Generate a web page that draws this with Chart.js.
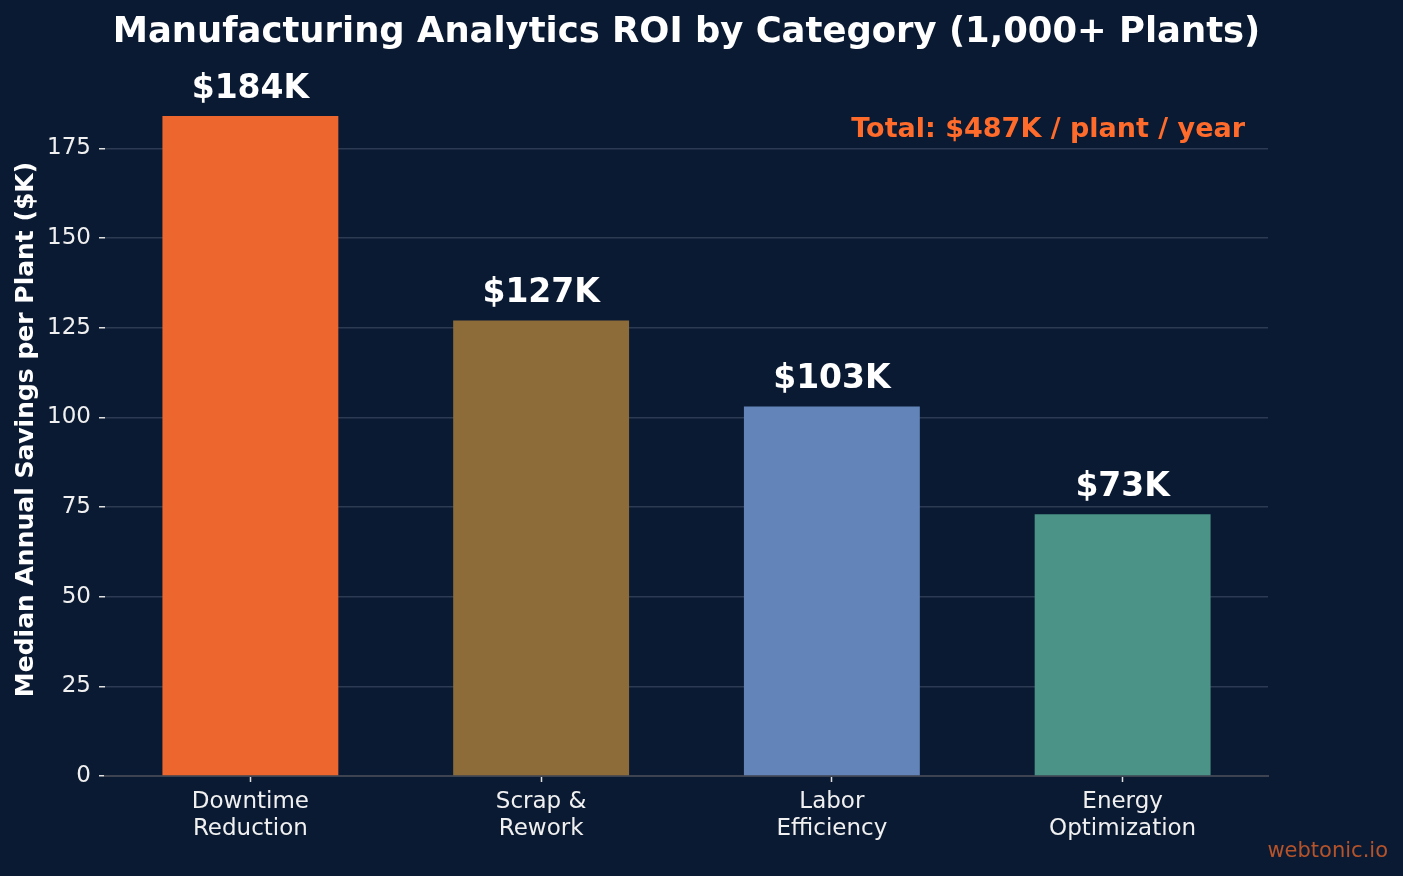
<!DOCTYPE html>
<html>
<head>
<meta charset="utf-8">
<script src="https://cdn.jsdelivr.net/npm/chart.js@4/dist/chart.umd.min.js"></script>
<style>
  html, body { margin: 0; padding: 0; background: #0b1a33; }
  #wrap { width: 1403px; height: 876px; }
</style>
</head>
<body>
<div id="wrap"><canvas id="roiChart" width="1403" height="876"></canvas></div>
<script>
const categories = [['Downtime', 'Reduction'], ['Scrap &', 'Rework'], ['Labor', 'Efficiency'], ['Energy', 'Optimization']];
const savings = [184, 127, 103, 73];
const valueLabels = ['$184K', '$127K', '$103K', '$73K'];
const barColors = ['#ec662e', '#8d6c3a', '#6384b8', '#4a9386'];
const yTicks = [0, 25, 50, 75, 100, 125, 150, 175];
const titleText = 'Manufacturing Analytics ROI by Category (1,000+ Plants)';
const totalText = 'Total: $487K / plant / year';

const FONT = "'DejaVu Sans', sans-serif";

const decorPlugin = {
    id: 'decor',
    beforeDraw(chart) {
        const ctx = chart.ctx;
        ctx.save();
        ctx.fillStyle = '#0b1a33';
        ctx.fillRect(0, 0, chart.width, chart.height);
        ctx.restore();
    },
    afterDatasetsDraw(chart) {
        const ctx = chart.ctx;
        const area = chart.chartArea;
        const meta = chart.getDatasetMeta(0);
        ctx.save();
        // bar value labels
        ctx.fillStyle = '#ffffff';
        ctx.font = 'bold 33px ' + FONT;
        ctx.textAlign = 'center';
        ctx.textBaseline = 'middle';
        meta.data.forEach((bar, i) => {
            ctx.fillText(valueLabels[i], bar.x, bar.y - 27);
        });
        // title
        ctx.font = 'bold 35.4px ' + FONT;
        ctx.fillText(titleText, (area.left + area.right) / 2, 33);
        // total annotation
        ctx.fillStyle = '#ff6b2b';
        ctx.font = 'bold 27px ' + FONT;
        ctx.textAlign = 'right';
        ctx.fillText(totalText, area.right - 23, 130);
        // watermark
        ctx.fillStyle = '#b5532a';
        ctx.font = '21px ' + FONT;
        ctx.fillText('webtonic.io', 1388, 852);
        ctx.restore();
    }
};

new Chart(document.getElementById('roiChart'), {
    type: 'bar',
    data: {
        labels: categories,
        datasets: [{
            data: savings,
            backgroundColor: barColors,
            borderWidth: 0,
            categoryPercentage: 1.0,
            barPercentage: 0.605
        }]
    },
    options: {
        responsive: false,
        animation: false,
        layout: { padding: { left: 0, right: 135, top: 83, bottom: 0 } },
        plugins: {
            legend: { display: false },
            tooltip: { enabled: false },
            title: { display: false }
        },
        scales: {
            x: {
                afterFit(scale) { scale.height = 100; },
                grid: { offset: false, drawOnChartArea: false, drawTicks: true, tickLength: 6, tickColor: '#e0e0e0', tickWidth: 1.5 },
                border: { display: true, color: '#3d4350', width: 2 },
                ticks: {
                    color: '#f0f0f0',
                    padding: 7,
                    font: { family: FONT, size: 23, lineHeight: 27 / 23 }
                }
            },
            y: {
                min: 0,
                max: 193.2,
                afterFit(scale) { scale.width = 105; },
                afterBuildTicks(scale) { scale.ticks = yTicks.map(v => ({ value: v })); },
                grid: { color: '#2c3a52', lineWidth: 1.5, drawTicks: true, tickLength: 6, tickColor: '#e0e0e0', tickWidth: 1.5 },
                border: { display: false },
                ticks: {
                    color: '#f0f0f0',
                    padding: 8,
                    font: { family: FONT, size: 23 }
                },
                title: {
                    display: true,
                    text: 'Median Annual Savings per Plant ($K)',
                    color: '#ffffff',
                    font: { family: FONT, size: 25, weight: 'bold' },
                    padding: { top: 11, bottom: 0 }
                }
            }
        }
    },
    plugins: [decorPlugin]
});
</script>
</body>
</html>
